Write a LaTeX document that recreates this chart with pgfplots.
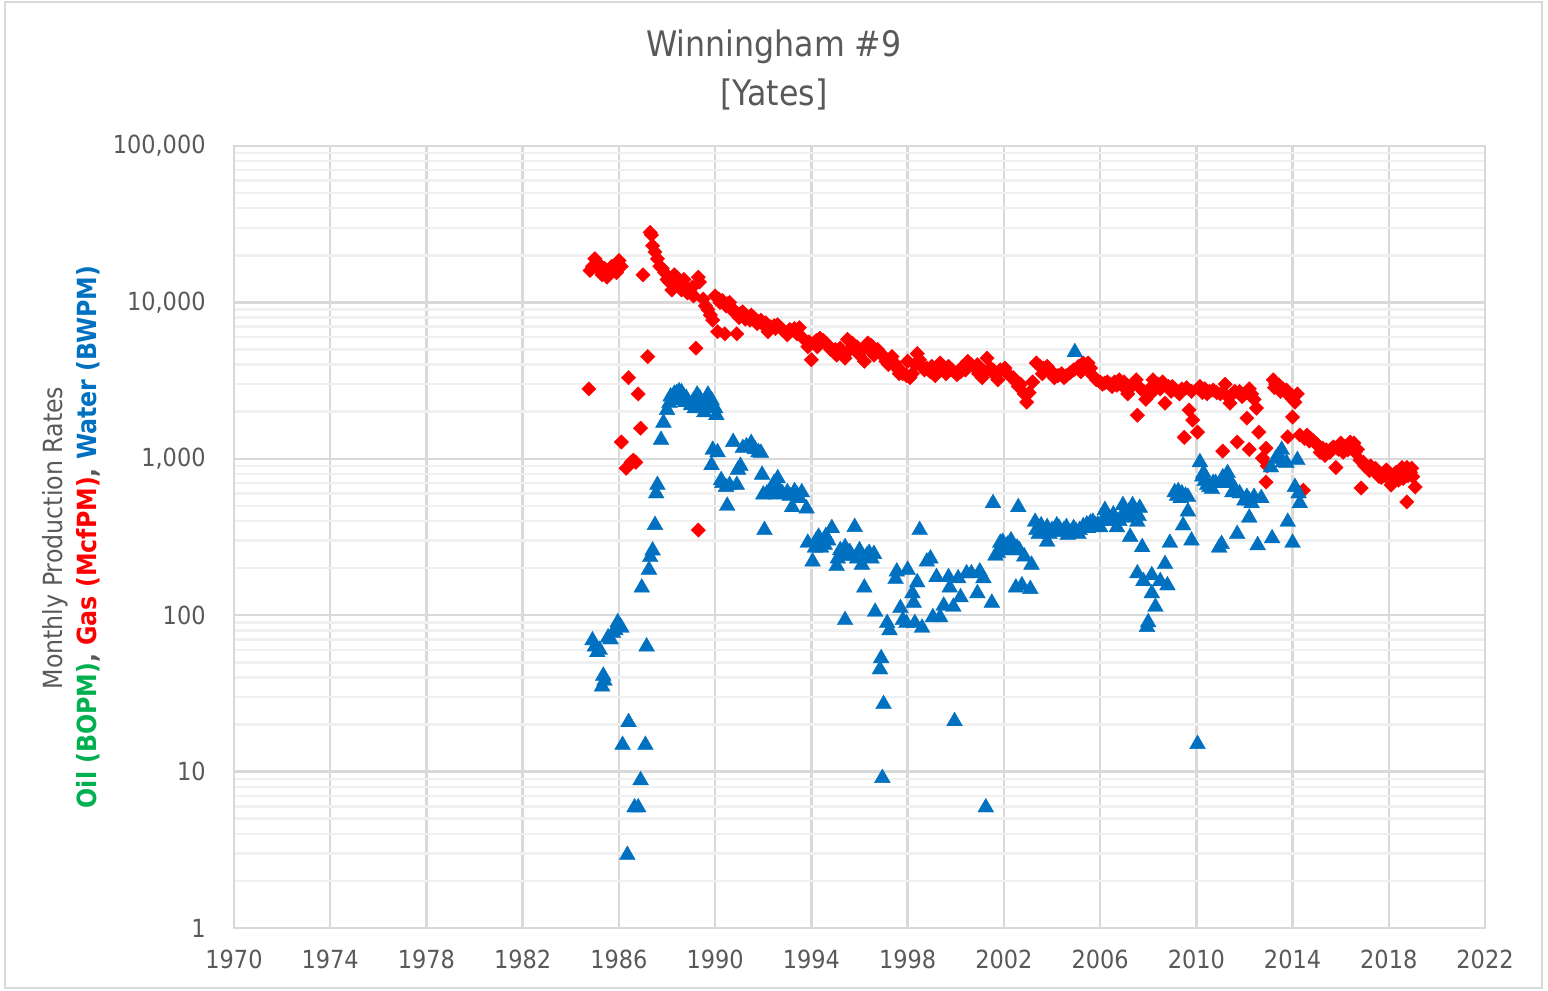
\documentclass[border=0pt]{standalone}
\usepackage{fontspec}
\setmainfont{DejaVu Sans Condensed}
\usepackage{pgfplots}
\pgfplotsset{compat=1.18}
\definecolor{txtgray}{HTML}{595959}
\definecolor{wblue}{HTML}{0070C0}
\definecolor{ogreen}{HTML}{00B050}
\definecolor{majgrid}{HTML}{D9D9D9}
\definecolor{mingrid}{HTML}{F0F0F0}
\definecolor{frame}{HTML}{D9D9D9}
\begin{document}
\begin{tikzpicture}
\path[use as bounding box] (0,0) rectangle (154.8mm,99mm);
\draw[color=frame, line width=0.25mm] (0.5mm,0.2mm) rectangle (154.2mm,98.8mm);
\begin{axis}[
  at={(23.4mm,6.2mm)}, anchor=south west,
  scale only axis, width=125.1mm, height=78.2mm,
  ymode=log, ymin=1, ymax=100000,
  xmin=1970, xmax=2022,
  xtick={1970,1974,...,2022},
  xticklabels={1970,1974,1978,1982,1986,1990,1994,1998,2002,2006,2010,2014,2018,2022},
  minor x tick num=3,
  ytick={1,10,100,1000,10000,100000},
  yticklabels={1,10,100,{1,000},{10,000},{100,000}},
  grid=both,
  major grid style={draw=majgrid, line width=0.25mm},
  minor grid style={draw=mingrid, line width=0.25mm},
  axis line style={draw=majgrid, line width=0.25mm},
  major tick length=0pt, minor tick length=0pt,
  tick style={draw=none},
  ticklabel style={font=\fontsize{7.1}{8.5}\selectfont, text=txtgray},
  yticklabel style={xshift=-1.6mm},
  xticklabel style={yshift=-1.0mm},
  clip=false,
]
\addplot[only marks, color=red, mark=square*, mark size=1.45pt,
  mark options={rotate=45, fill=red, draw=red, line width=0.1pt}] table {
1984.75 2800
1984.8 16000
1984.9 17000
1985.0 19000
1985.1 18000
1985.2 16000
1985.3 15000
1985.4 16500
1985.5 14500
1985.6 15500
1985.7 17000
1985.8 16000
1985.9 15500
1986.0 18500
1986.1 17000
1986.1 1280
1986.3 870
1986.4 3300
1986.5 950
1986.6 980
1986.7 950
1986.8 2600
1986.9 1570
1987.0 15000
1987.2 4500
1987.3 28000
1987.35 27000
1987.4 23000
1987.5 21000
1987.6 19000
1987.7 17000
1987.8 16500
1987.9 15500
1988.0 14000
1988.1 13500
1988.2 12000
1988.25 13000
1988.3 15000
1988.4 14500
1988.5 13000
1988.55 13500
1988.6 12000
1988.7 14000
1988.8 12500
1988.85 11500
1988.9 12000
1989.0 11500
1989.05 12500
1989.1 11000
1989.2 5100
1989.3 14500
1989.35 13500
1989.3 350
1989.5 10500
1989.6 9500
1989.7 9000
1989.8 8300
1989.9 7700
1990.0 11000
1990.1 6500
1990.15 10500
1990.2 10000
1990.3 10300
1990.4 6300
1990.45 9500
1990.5 9800
1990.6 10000
1990.7 9200
1990.75 9000
1990.8 8600
1990.9 6300
1991.0 8000
1991.05 8500
1991.15 8700
1991.25 7800
1991.3 8200
1991.45 7700
1991.5 8300
1991.6 8000
1991.7 7700
1991.75 7300
1991.8 7500
1991.9 7700
1992.0 7200
1992.1 7400
1992.15 7000
1992.2 6500
1992.3 6970
1992.45 7100
1992.5 6800
1992.6 7200
1992.7 6900
1992.8 6700
1993.0 6200
1993.1 6700
1993.15 6600
1993.3 6800
1993.4 6300
1993.5 6900
1993.65 5900
1993.85 5200
1993.9 5600
1994.0 4300
1994.1 5500
1994.2 5700
1994.25 5200
1994.35 5900
1994.5 5700
1994.6 5500
1994.7 5300
1994.8 5000
1995.0 5000
1995.05 4600
1995.2 5100
1995.3 4800
1995.4 4400
1995.5 5800
1995.6 5000
1995.7 5500
1995.9 5200
1995.95 4700
1996.05 4800
1996.2 4200
1996.35 5500
1996.4 5000
1996.5 5300
1996.6 4600
1996.75 5000
1996.9 4700
1997.0 4500
1997.1 4200
1997.2 4000
1997.35 4500
1997.45 4100
1997.55 3800
1997.65 3500
1997.7 3700
1997.8 3500
1997.95 3400
1998.0 4200
1998.1 3300
1998.2 3500
1998.3 4000
1998.4 4700
1998.5 4300
1998.6 3900
1998.7 3700
1998.8 3800
1998.95 3600
1999.0 3900
1999.15 3400
1999.25 3700
1999.35 4100
1999.5 3800
1999.6 3500
1999.7 3900
1999.85 3700
2000.05 3450
2000.2 3600
2000.3 3900
2000.4 3700
2000.5 4200
2000.65 4000
2000.8 3800
2000.9 4000
2000.95 3500
2001.1 3300
2001.2 3600
2001.3 4400
2001.45 3800
2001.55 3700
2001.65 3400
2001.75 3200
2001.85 3700
2002.05 3800
2002.15 3500
2002.25 3400
2002.4 3300
2002.5 3100
2002.6 2900
2002.7 3000
2002.85 2600
2002.95 2300
2003.05 2650
2003.2 3100
2003.35 4100
2003.5 3900
2003.6 3500
2003.65 3800
2003.8 3900
2003.9 3600
2004.0 3600
2004.1 3300
2004.25 3400
2004.4 3500
2004.5 3300
2004.6 3400
2004.75 3550
2004.9 3700
2005.1 3900
2005.2 3600
2005.3 4100
2005.4 3800
2005.5 4100
2005.6 3800
2005.7 3400
2005.85 3200
2006.0 3100
2006.1 3000
2006.2 3050
2006.3 3100
2006.4 3000
2006.5 2900
2006.6 3100
2006.7 2950
2006.8 3200
2006.95 2900
2007.0 3100
2007.15 2600
2007.3 2900
2007.4 3000
2007.5 3200
2007.55 1900
2007.7 2800
2007.8 2700
2007.9 2400
2008.05 2800
2008.1 2600
2008.2 3200
2008.3 2900
2008.4 3000
2008.5 2800
2008.6 3100
2008.7 2270
2008.85 2900
2008.95 2700
2009.0 2900
2009.1 2800
2009.2 2700
2009.3 2600
2009.4 2800
2009.5 1370
2009.6 2850
2009.7 2050
2009.8 2700
2009.85 1770
2010.05 1480
2010.15 2900
2010.25 2650
2010.35 2800
2010.45 2600
2010.55 2700
2010.7 2750
2010.85 2650
2011.0 2600
2011.1 1120
2011.2 3000
2011.3 2500
2011.4 2270
2011.5 2600
2011.6 2700
2011.7 1280
2011.8 2700
2011.9 2500
2012.0 2600
2012.1 1820
2012.2 2800
2012.2 1150
2012.3 2600
2012.4 2400
2012.5 2110
2012.6 1480
2012.75 1010
2012.9 1170
2012.95 900
2012.9 710
2013.2 3200
2013.25 2850
2013.3 3000
2013.45 2950
2013.5 2700
2013.6 2800
2013.75 2750
2013.8 1380
2013.9 2500
2014.0 2400
2014.0 1850
2014.1 2300
2014.2 2600
2014.3 1420
2014.45 630
2014.5 1350
2014.6 1420
2014.7 1300
2014.75 1350
2014.85 1310
2015.0 1250
2015.1 1190
2015.15 1100
2015.25 1170
2015.35 1050
2015.4 1140
2015.55 1100
2015.6 1150
2015.7 1190
2015.8 880
2015.9 1150
2016.0 1260
2016.1 1100
2016.15 1200
2016.3 1140
2016.4 1280
2016.45 1220
2016.55 1260
2016.6 1100
2016.7 1150
2016.8 980
2016.85 650
2016.95 950
2017.0 900
2017.1 880
2017.2 840
2017.25 900
2017.35 850
2017.45 870
2017.5 820
2017.6 770
2017.7 760
2017.75 800
2017.85 780
2017.9 850
2018.0 820
2018.1 680
2018.2 760
2018.3 820
2018.4 730
2018.45 800
2018.55 880
2018.6 750
2018.75 880
2018.75 530
2018.8 780
2018.9 820
2018.95 870
2019.0 770
2019.1 660
};
\addplot[only marks, color=wblue, mark=triangle*, mark size=2.6pt,
  mark options={fill=wblue, draw=wblue, line width=0.1pt}] table {
1984.9 69
1985.0 63
1985.1 58
1985.2 60
1985.3 35
1985.35 41
1985.4 38
1985.55 72
1985.65 70
1985.75 77
1985.85 80
1985.95 90
1986.05 85
1986.1 83
1986.15 14.8
1986.35 2.93
1986.4 20.7
1986.65 5.9
1986.8 5.9
1986.9 8.8
1986.95 150
1987.1 14.8
1987.15 63
1987.25 195
1987.3 235
1987.4 259
1987.5 377
1987.55 600
1987.6 680
1987.75 1320
1987.85 1700
1988.0 2050
1988.1 2270
1988.15 2500
1988.2 2370
1988.3 2600
1988.4 2630
1988.45 2400
1988.5 2700
1988.6 2660
1988.7 2500
1988.75 2300
1988.8 2440
1988.9 2300
1989.0 2200
1989.1 2350
1989.15 2100
1989.25 2570
1989.35 2450
1989.4 2300
1989.5 2200
1989.55 1980
1989.65 2200
1989.7 2570
1989.85 2370
1989.85 910
1989.9 1140
1990.0 2100
1990.05 1900
1990.1 1100
1990.25 730
1990.3 700
1990.45 660
1990.5 500
1990.6 680
1990.75 1280
1990.9 680
1990.95 850
1991.05 900
1991.15 1170
1991.3 1200
1991.5 1260
1991.65 1150
1991.8 1100
1991.9 1090
1991.95 790
1992.0 590
1992.05 350
1992.15 600
1992.3 620
1992.35 650
1992.45 700
1992.55 590
1992.6 750
1992.7 620
1992.8 600
1993.0 610
1993.1 580
1993.2 490
1993.3 620
1993.4 590
1993.5 560
1993.6 610
1993.8 480
1993.85 290
1994.05 220
1994.15 270
1994.2 300
1994.3 317
1994.4 270
1994.45 290
1994.55 282
1994.6 320
1994.7 300
1994.85 360
1995.05 206
1995.1 230
1995.2 260
1995.3 240
1995.4 272
1995.4 93
1995.5 240
1995.6 253
1995.8 366
1995.9 230
1996.0 260
1996.1 210
1996.2 150
1996.3 240
1996.4 250
1996.5 230
1996.6 246
1996.65 105
1996.85 45
1996.9 53
1996.95 9.1
1997.0 27
1997.15 89
1997.25 80
1997.5 170
1997.55 190
1997.7 111
1997.8 93
1997.95 89
1998.0 195
1998.2 138
1998.25 120
1998.3 89
1998.4 162
1998.5 350
1998.6 83
1998.8 220
1998.95 230
1999.05 97
1999.2 175
1999.35 97
1999.5 115
1999.7 175
1999.75 150
1999.9 113
1999.95 21
2000.1 172
2000.2 130
2000.45 185
2000.65 185
2000.9 138
2001.0 190
2001.15 172
2001.25 5.9
2001.5 120
2001.55 520
2001.65 240
2001.75 250
2001.85 290
2001.95 294
2002.0 260
2002.15 282
2002.25 290
2002.3 300
2002.4 260
2002.5 150
2002.55 270
2002.6 490
2002.65 260
2002.75 155
2002.85 237
2003.1 147
2003.15 210
2003.3 395
2003.35 350
2003.45 330
2003.5 360
2003.55 375
2003.7 340
2003.8 295
2003.8 365
2003.9 330
2004.0 350
2004.1 345
2004.2 375
2004.3 360
2004.4 340
2004.5 350
2004.6 365
2004.65 325
2004.8 340
2004.9 360
2004.95 4800
2005.0 345
2005.1 330
2005.15 350
2005.3 370
2005.45 380
2005.5 360
2005.6 390
2005.7 395
2005.8 375
2005.9 380
2006.0 365
2006.1 400
2006.2 470
2006.35 420
2006.45 400
2006.55 440
2006.7 365
2006.8 400
2006.9 430
2006.95 505
2007.1 420
2007.2 460
2007.25 317
2007.35 505
2007.45 450
2007.55 395
2007.55 185
2007.6 430
2007.65 485
2007.75 272
2007.8 165
2007.95 84
2008.0 90
2008.15 180
2008.15 138
2008.3 113
2008.5 165
2008.7 212
2008.8 155
2008.9 290
2009.1 610
2009.2 580
2009.25 620
2009.35 560
2009.4 600
2009.45 375
2009.55 580
2009.65 570
2009.65 460
2009.8 300
2010.05 15
2010.15 950
2010.25 770
2010.3 810
2010.35 720
2010.45 680
2010.55 660
2010.65 640
2010.7 700
2010.8 700
2010.95 270
2011.05 285
2011.1 760
2011.2 700
2011.3 810
2011.45 700
2011.5 610
2011.6 640
2011.7 330
2011.8 600
2012.0 540
2012.1 570
2012.2 540
2012.2 420
2012.3 520
2012.4 570
2012.55 280
2012.7 560
2013.1 880
2013.15 310
2013.3 1000
2013.4 1050
2013.55 1140
2013.6 950
2013.75 940
2013.8 395
2014.0 290
2014.1 660
2014.2 980
2014.25 600
2014.3 520
};
\end{axis}
\node[anchor=base, text=txtgray, font=\fontsize{10}{12}\selectfont] at (77.4mm,93.3mm) {Winningham \#9};
\node[anchor=base, text=txtgray, font=\fontsize{10}{12}\selectfont] at (77.4mm,88.4mm) {[Yates]};
\node[rotate=90, text=txtgray, font=\fontsize{7.5}{9}\selectfont] at (5.5mm,45.2mm) {Monthly Production Rates};
\node[rotate=90, font=\bfseries\fontsize{7.5}{9}\selectfont] at (8.8mm,45.3mm) {\textcolor{ogreen}{Oil (BOPM)}\textcolor{txtgray}{,} \textcolor{red}{Gas (McfPM)}\textcolor{txtgray}{,} \textcolor{wblue}{Water (BWPM)}};
\end{tikzpicture}
\end{document}
